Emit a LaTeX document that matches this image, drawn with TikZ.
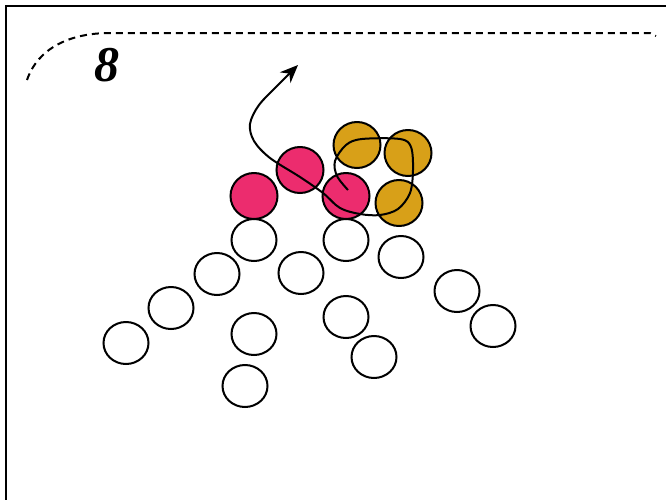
\documentclass[tikz,border=0pt]{standalone}
\usepackage{fontspec}
\setmainfont{Liberation Serif}
\usetikzlibrary{arrows.meta,shapes.geometric}
\definecolor{ballpink}{RGB}{236,44,110}
\definecolor{ballgold}{RGB}{216,160,24}
\begin{document}
\begin{tikzpicture}[x=1pt,y=-1pt,
  ball/.style={draw=black,line width=2pt,ellipse,inner sep=0pt,
    minimum width=45pt,minimum height=42pt},
  whiteball/.style={ball,fill=white},
  pinkball/.style={ball,fill=ballpink,minimum width=47pt,minimum height=46pt},
  goldball/.style={ball,fill=ballgold,minimum width=47pt,minimum height=46pt}]
  \useasboundingbox (0,0) rectangle (666,499);
  \fill[white] (0,0) rectangle (666,499);

  % frame and dashed border
  \draw[line width=2.6pt] (6,510) -- (6,6) -- (670,6);
  \draw[line width=2pt,dash pattern=on 7pt off 5pt]
    (27,80) .. controls (38,48) and (70,33) .. (110,33) -- (650,33) -- (656,36);
  \node (num) at (107,65) {\fontsize{50}{50}\selectfont\bfseries\itshape 8};

  % white balls
  \node[whiteball] (w1) at (254,240) {};
  \node[whiteball] (w2) at (217,274) {};
  \node[whiteball] (w3) at (171,308) {};
  \node[whiteball] (w4) at (126,343) {};
  \node[whiteball] (w5) at (254,334) {};
  \node[whiteball] (w6) at (245,386) {};
  \node[whiteball] (w7) at (301,273) {};
  \node[whiteball] (w8) at (346,240) {};
  \node[whiteball] (w9) at (346,317) {};
  \node[whiteball] (w10) at (374,357) {};
  \node[whiteball] (w11) at (401,257) {};
  \node[whiteball] (w12) at (457,291) {};
  \node[whiteball] (w13) at (493,326) {};

  % pink and gold balls
  \node[pinkball] (p1) at (254,196) {};
  \node[pinkball] (p2) at (300,170) {};
  \node[pinkball] (p3) at (346,196) {};
  \node[goldball] (g1) at (357,145) {};
  \node[goldball] (g2) at (408,153) {};
  \node[goldball] (g3) at (399,203) {};

  % path of the ball
  \draw[line width=2pt,-{Stealth[length=18pt,width=15pt]}]
    plot[smooth,tension=0.55] coordinates {(348,190) (337,176) (335,161) (346,145)
      (362,139) (400,139) (411,147) (413,170) (410,193) (398,209) (380,215)
      (360,214) (340,208) (323,193) (300,177) (270,158) (254,141) (250,124)
      (259,105) (279,84) (298,65)};
\end{tikzpicture}
\end{document}
